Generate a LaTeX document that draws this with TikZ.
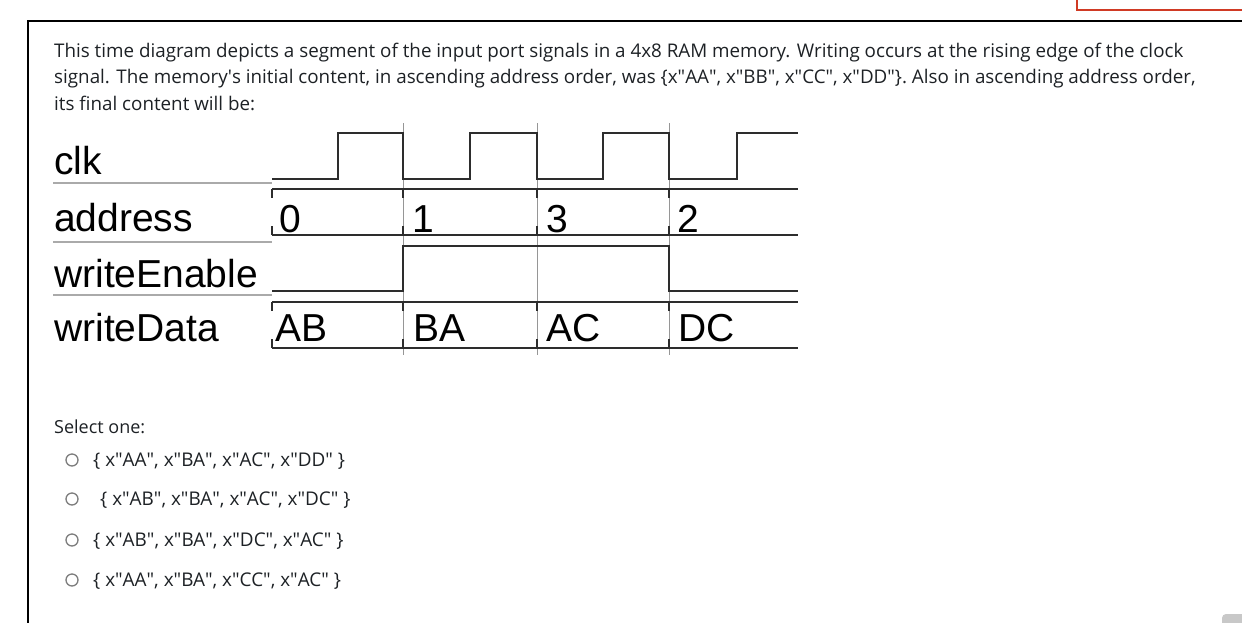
\documentclass[tikz,border=0pt]{standalone}
\usepackage{fontspec}
\setmainfont{Open Sans}
\newfontfamily\wavefont{Liberation Sans}
\usetikzlibrary{positioning}
\definecolor{framered}{RGB}{208,58,36}
\definecolor{waveline}{RGB}{45,45,45}
\definecolor{sepgray}{RGB}{170,170,170}
\definecolor{cursorgray}{RGB}{150,150,150}
\definecolor{radiogray}{RGB}{125,125,125}
\definecolor{bodyink}{RGB}{29,33,37}
\definecolor{scrollgray}{RGB}{200,200,200}
\newcommand{\qq}{\textquotedbl}
\tikzset{
  bodytext/.style={anchor=base west, inner sep=0pt, text=bodyink, font=\fontsize{18.8}{22}\selectfont},
  choicetext/.style={anchor=base west, inner sep=0pt, text=bodyink, font=\fontsize{18.9}{20}\selectfont},
  siglabel/.style={anchor=base west, inner sep=0pt, font=\wavefont\fontsize{39}{40}\selectfont},
  sigvalue/.style={siglabel},
  radiobtn/.style={circle, draw=radiogray, line width=1.3pt, minimum size=12pt, inner sep=0pt},
  sigline/.style={draw=waveline, line width=2pt},
  busmark/.style={draw=waveline, line width=2.6pt},
  sepline/.style={draw=sepgray, line width=1.8pt},
  cursorline/.style={draw=cursorgray, line width=0.9pt}
}
\begin{document}
\begin{tikzpicture}[x=1pt, y=-1pt]
  \useasboundingbox (0,0) rectangle (1242,622);
  % page frame
  \draw[framered, line width=1.2pt] (1077,-5) -- (1077,10) -- (1250,10);
  \draw[line width=1.4pt] (1250,21) -- (28,21) -- (28,630);
  \fill[scrollgray, rounded corners=4pt] (1222,614) rectangle (1252,634);

  \node[bodytext] (para1) at (54,57) {This time diagram depicts a segment of the input port signals in a 4x8 RAM memory. Writing occurs at the rising edge of the clock};
  \node[bodytext] (para2) at (54,83.5) {signal. The memory\textquotesingle s initial content, in ascending address order, was \{x\qq AA\qq, x\qq BB\qq, x\qq CC\qq, x\qq DD\qq\}. Also in ascending address order,};
  \node[bodytext] (para3) at (54,110) {its final content will be:};

  % timing diagram
  \foreach \x in {403,537,669}
    \draw[cursorline] (\x,123) -- (\x,355);
  \foreach \y in {183,242,295}
    \draw[sepline] (53,\y) -- (272,\y);
  \node[siglabel] (lblclk) at (54,174) {clk};
  \node[siglabel] (lbladdr) at (54,231) {address};
  \node[siglabel] (lblwe) at (54,287) {writeEnable};
  \node[siglabel] (lblwd) at (54,341) {writeData};

  \draw[sigline] (272,179) \foreach \r/\f in {338/403,470/537,603/669} { -- (\r,179) -- (\r,133) -- (\f,133) -- (\f,179) } -- (737,179) -- (737,133) -- (798,133);
  \draw[sigline] (272,189) -- (798,189) (272,235) -- (798,235);
  \draw[sigline] (272,291) -- (403,291) -- (403,246) -- (669,246) -- (669,291) -- (798,291);
  \draw[sigline] (272,302) -- (798,302) (272,348) -- (798,348);
  \foreach \x/\da/\dd/\a/\d [count=\i] in {272/7/3/0/AB,403/9/10/1/BA,537/9/9/3/AC,669/8/9/2/DC} {
    \draw[busmark] (\x,189) -- ++(0,9) (\x,235) -- ++(0,-9);
    \draw[busmark] (\x,302) -- ++(0,9) (\x,348) -- ++(0,-9);
    \node[sigvalue] (addr\i) at (\x+\da,232) {\a};
    \node[sigvalue] (data\i) at (\x+\dd,341) {\d};
  }

  % answers
  \node[choicetext, font=\fontsize{18}{20}\selectfont] (selone) at (54,433) {Select one:};
  \foreach \y/\lead/\txt [count=\i] in {
      460/93/{\{ x\qq AA\qq, x\qq BA\qq, x\qq AC\qq, x\qq DD\qq\ \}},
      499/100/{\{ x\qq AB\qq, x\qq BA\qq, x\qq AC\qq, x\qq DC\qq\ \}},
      540/93/{\{ x\qq AB\qq, x\qq BA\qq, x\qq DC\qq, x\qq AC\qq\ \}},
      580/93/{\{ x\qq AA\qq, x\qq BA\qq, x\qq CC\qq, x\qq AC\qq\ \}}} {
    \node[radiobtn] (radio\i) at (72,\y) {};
    \node[choicetext] (choice\i) at (\lead,\y+6) {\txt};
  }
\end{tikzpicture}
\end{document}
